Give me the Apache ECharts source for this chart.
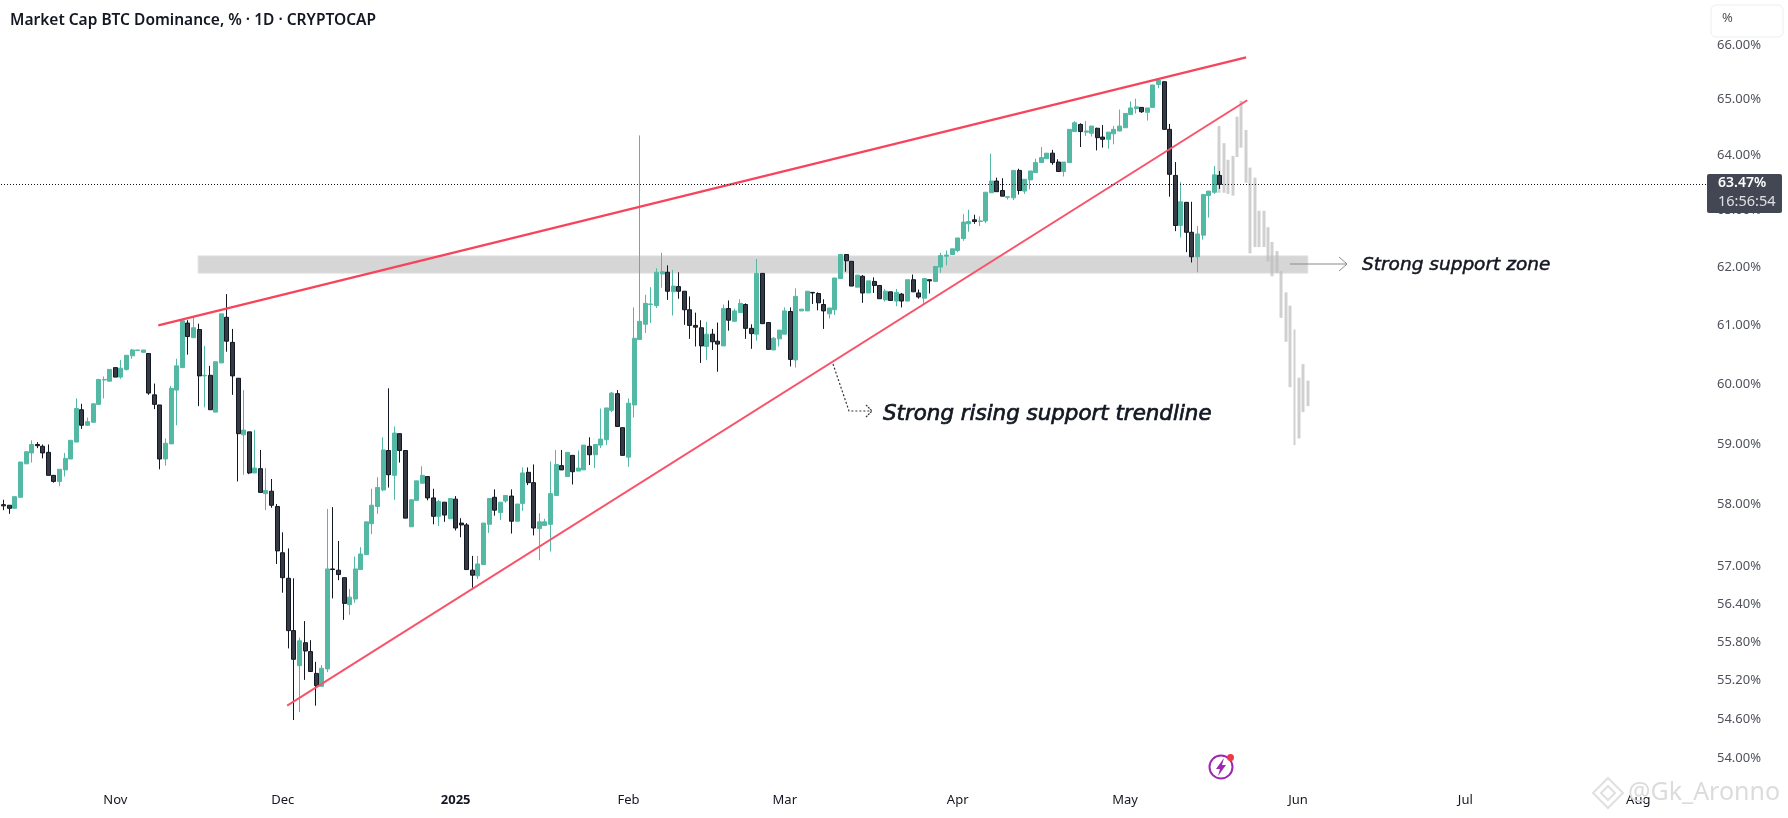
<!DOCTYPE html>
<html>
<head>
<meta charset="utf-8">
<title>Market Cap BTC Dominance</title>
<script src="https://cdn.jsdelivr.net/npm/echarts@6/dist/echarts.min.js"></script>
<style>
    html, body { margin: 0; padding: 0; background: #fff; }
    #chart { width: 1788px; height: 818px; }
</style>
</head>
<body>
<div id="chart"></div>
<script>
// open, close, low, high
var candleData = [
    [58.00,57.98,57.91,58.08],[57.99,57.94,57.85,57.99],[57.94,58.13,57.94,58.13],[58.12,58.70,58.12,58.70],
    [58.67,58.87,58.67,58.87],[58.85,58.99,58.69,59.06],[58.99,58.97,58.93,59.03],[58.96,58.85,58.76,58.99],
    [58.86,58.48,58.48,58.99],[58.48,58.38,58.36,58.48],[58.38,58.58,58.30,58.58],[58.57,58.76,58.46,58.85],
    [58.75,59.06,58.75,59.06],[59.03,59.59,59.03,59.76],[59.57,59.31,59.25,59.67],[59.31,59.37,59.30,59.44],
    [59.36,59.67,59.36,59.67],[59.66,60.08,59.66,60.08],[60.07,60.08,59.76,60.13],[60.05,60.25,60.05,60.25],
    [60.28,60.12,60.12,60.28],[60.12,60.27,60.09,60.41],[60.25,60.49,60.23,60.49],[60.48,60.58,60.43,60.60],
    [60.57,60.58,60.57,60.58],[60.54,60.58,60.54,60.58],[60.52,59.85,59.82,60.52],[59.82,59.66,59.58,60.01],
    [59.65,58.75,58.58,59.65],[58.75,59.01,58.64,59.09],[59.00,59.93,59.00,59.97],[59.90,60.31,59.31,60.43],
    [60.28,61.08,60.28,61.08],[61.04,60.81,60.50,61.09],[60.79,60.96,60.79,61.15],[60.93,60.14,59.63,61.03],
    [60.14,60.15,59.61,60.65],[60.15,59.57,59.57,60.31],[59.53,60.38,59.53,60.38],[60.36,61.20,60.36,61.20],
    [61.14,60.73,60.55,61.54],[60.71,60.14,59.82,60.94],[60.10,59.17,58.38,60.10],[59.15,59.23,58.49,59.90],
    [59.20,58.52,58.50,59.20],[58.52,58.60,58.52,59.23],[58.59,58.20,58.20,58.90],[58.18,58.23,57.91,58.60],
    [58.22,57.99,57.95,58.42],[57.97,57.25,57.04,58.01],[57.22,56.82,56.58,57.55],[56.81,55.98,55.70,57.29],
    [55.98,55.53,54.59,56.81],[55.43,55.82,54.71,55.87],[55.79,55.66,55.21,56.13],[55.65,55.34,55.34,55.83],
    [55.31,55.12,54.81,55.49],[55.11,55.39,55.11,55.44],[55.38,56.96,55.33,57.93],[56.96,56.95,56.49,57.96],
    [56.94,56.87,56.78,57.41],[56.82,56.41,56.15,56.82],[56.39,56.51,56.23,56.64],[56.48,56.96,56.42,57.16],
    [56.95,57.20,56.95,57.31],[57.19,57.72,57.19,57.72],[57.69,57.99,57.52,58.26],[57.97,58.28,57.85,58.45],
    [58.24,58.90,58.22,59.11],[58.89,58.49,58.28,59.93],[58.48,59.18,58.08,59.29],[59.17,58.89,58.69,59.17],
    [58.89,57.78,57.78,58.89],[57.64,58.08,57.64,58.08],[58.07,58.39,58.07,58.39],[58.35,58.48,58.35,58.63],
    [58.46,58.11,58.07,58.46],[58.11,57.81,57.68,58.26],[57.81,58.05,57.65,58.08],[58.04,57.83,57.72,58.04],
    [57.77,58.10,57.77,58.10],[58.09,57.62,57.58,58.14],[57.70,57.67,57.47,57.78],[57.67,56.95,56.95,57.70],
    [56.94,56.86,56.66,57.17],[56.85,57.04,56.80,57.17],[57.03,57.70,57.03,57.70],[57.68,58.10,57.54,58.10],
    [58.12,57.91,57.82,58.25],[57.87,58.04,57.75,58.04],[58.06,58.15,58.03,58.15],[58.14,57.73,57.53,58.25],
    [57.73,58.01,57.73,58.01],[58.02,58.52,57.90,58.61],[58.53,58.36,58.32,58.61],[58.36,57.62,57.50,58.66],
    [57.61,57.72,57.10,57.86],[57.66,57.72,57.66,57.77],[57.68,58.18,57.24,58.71],[58.15,58.66,58.15,58.90],
    [58.64,58.57,58.57,58.90],[58.46,58.86,58.46,58.86],[58.81,58.54,58.33,58.81],[58.55,58.60,58.55,58.89],
    [58.57,58.98,58.57,58.98],[58.96,58.82,58.65,59.11],[58.82,58.99,58.60,58.99],[58.98,59.08,58.93,59.59],
    [59.07,59.60,58.98,59.60],[59.56,59.85,59.53,59.87],[59.84,59.29,59.29,59.90],[59.27,58.81,58.81,59.27],
    [58.78,59.68,58.62,59.76],[59.65,60.78,59.44,61.31],[60.76,61.07,60.76,64.35],[61.02,61.38,60.87,61.53],
    [61.36,61.37,61.04,61.66],[61.34,61.92,61.30,61.99],[61.89,61.93,61.65,62.26],[61.92,61.59,61.44,62.04],
    [61.58,61.68,61.17,61.96],[61.67,61.59,61.46,61.92],[61.59,61.27,61.01,61.59],[61.27,61.00,60.77,61.50],
    [61.00,60.97,60.64,61.22],[60.96,60.65,60.36,61.09],[60.64,60.85,60.41,61.06],[60.85,60.72,60.58,60.94],
    [60.73,60.68,60.21,61.05],[60.65,61.29,60.65,61.36],[61.29,61.09,60.91,61.43],[61.07,61.25,61.07,61.29],
    [61.22,61.38,61.22,61.45],[61.36,60.95,60.77,61.38],[60.95,60.86,60.60,61.02],[60.85,61.90,60.74,62.15],
    [61.90,61.03,61.03,61.90],[61.05,60.59,60.59,61.05],[60.58,60.78,60.58,60.80],[60.77,60.92,60.64,60.92],
    [60.85,61.25,60.85,61.31],[61.24,60.42,60.30,61.31],[60.41,61.50,60.28,61.64],[61.25,61.28,61.25,61.28],
    [61.25,61.59,61.25,61.59],[61.57,61.56,61.37,61.57],[61.55,61.39,61.26,61.57],[61.36,61.25,60.94,61.45],
    [61.20,61.30,61.12,61.30],[61.27,61.82,61.18,61.82],[61.81,62.23,61.81,62.23],[62.23,62.12,61.93,62.23],
    [62.11,61.68,61.68,62.11],[61.66,61.87,61.66,61.87],[61.85,61.56,61.39,61.87],[61.56,61.77,61.56,61.77],
    [61.76,61.69,61.56,61.83],[61.69,61.46,61.46,61.69],[61.44,61.59,61.41,61.63],[61.58,61.43,61.43,61.58],
    [61.42,61.57,61.33,61.63],[61.54,61.42,61.31,61.56],[61.42,61.79,61.42,61.79],[61.79,61.58,61.58,61.88],
    [61.56,61.49,61.46,61.62],[61.47,61.81,61.36,61.81],[61.79,61.77,61.55,61.79],[61.76,62.02,61.76,62.02],
    [62.01,62.21,61.91,62.26],[62.20,62.22,62.04,62.30],[62.23,62.33,62.23,62.33],[62.30,62.52,62.27,62.52],
    [62.51,62.80,62.47,62.94],[62.77,62.81,62.63,63.02],[62.84,62.81,62.77,62.93],[62.81,62.82,62.73,62.90],
    [62.82,63.33,62.78,63.33],[63.32,63.53,63.32,64.02],[63.53,63.34,63.34,63.59],[63.36,63.26,63.26,63.58],
    [63.24,63.25,63.20,63.25],[63.23,63.72,63.19,63.72],[63.72,63.36,63.29,63.75],[63.35,63.56,63.30,63.56],
    [63.55,63.71,63.38,63.71],[63.68,63.86,63.68,63.93],[63.86,63.95,63.86,64.14],[63.93,64.03,63.93,64.03],
    [64.03,63.86,63.82,64.09],[63.87,63.70,63.70,63.92],[63.70,63.87,63.61,63.87],[63.86,64.46,63.86,64.46],
    [64.42,64.58,64.42,64.61],[64.55,64.42,64.14,64.57],[64.41,64.43,64.34,64.61],[64.39,64.52,64.33,64.52],
    [64.48,64.31,64.08,64.49],[64.32,64.28,64.13,64.54],[64.28,64.41,64.11,64.41],[64.38,64.46,64.19,64.52],
    [64.43,64.52,64.43,64.82],[64.49,64.75,64.49,64.75],[64.73,64.85,64.73,64.97],[64.84,64.87,64.75,65.02],
    [64.86,64.78,64.76,64.86],[64.77,64.85,64.62,64.85],[64.86,65.27,64.86,65.27],[65.28,65.36,65.21,65.39],
    [65.33,64.46,64.46,65.34],[64.46,63.65,63.25,64.56],[63.63,62.74,62.64,63.87],[62.74,63.16,62.53,63.51],
    [63.15,62.62,62.27,63.15],[62.62,62.19,62.09,63.16],[62.19,62.59,61.92,62.73],[62.57,63.29,62.49,63.29],
    [63.27,63.35,62.88,63.35],[63.33,63.64,63.30,63.80],[63.63,63.47,63.39,63.71]
];

// projected path, bottom and top of each grey bar
var ghostBars = [
    [63.32,64.52],[63.32,64.21],[63.30,63.91],[63.27,63.98],[63.96,64.69],[64.13,64.98],[63.50,64.45],
    [62.25,63.77],[62.36,63.59],[62.36,63.00],[62.36,63.00],[62.11,62.71],[61.85,62.45],[61.91,62.29],
    [61.13,61.94],[60.72,61.57],[59.95,61.34],[58.98,60.93],[59.09,60.11],[59.53,60.34],[59.63,60.06]
];
var ghostOffset = 275;
var ghostSlots = 386;

var firstDay = '2024-10-12';
var daySlots = 306;
var monthDates = ['2024-11-01','2024-12-01','2025-01-01','2025-02-01','2025-03-01','2025-04-01','2025-05-01','2025-06-01','2025-07-01','2025-08-01'];
var monthNames = ['Nov','Dec','2025','Feb','Mar','Apr','May','Jun','Jul','Aug'];
var priceTicks = [66,65,64,63,62,61,60,59,58,57,56.4,55.8,55.2,54.6,54];
var lastPrice = 63.47;

// [bar index, value]
var upperTrend = [[28.2,61.00],[223.2,65.78]];
var lowerTrend = [[51.3,54.81],[223.4,64.99]];
var supportZone = {from: 35.3, to: 234.3, low: 61.90, high: 62.21};

var days = [];
var d0 = new Date(firstDay + 'T00:00:00Z').getTime();
for (var i = 0; i < daySlots; i++) {
    days.push(new Date(d0 + i * 86400000).toISOString().slice(0, 10));
}
var ghostCats = [];
for (var j = 0; j < ghostSlots; j++) {
    ghostCats.push('g' + j);
}
var ghostSeries = [];
for (var k = 0; k < ghostOffset; k++) {
    ghostSeries.push('-');
}
ghostBars.forEach(function (b) {
    ghostSeries.push([b[0], b[1], b[0], b[1]]);
});

var fontName = '"Noto Sans", sans-serif';
var noteFamily = '"DejaVu Sans", sans-serif';

var chart = echarts.init(document.getElementById('chart'));
chart.setOption({
    animation: false,
    backgroundColor: '#ffffff',
    grid: {left: 1, top: 0, width: 1707, height: 785, containLabel: false},
    xAxis: [
        {
            type: 'category',
            data: days,
            boundaryGap: true,
            axisLine: {show: false},
            axisTick: {show: false},
            splitLine: {show: false},
            axisLabel: {
                margin: 9,
                hideOverlap: false,
                color: '#131722',
                fontFamily: fontName,
                fontSize: 13,
                interval: function (index, value) {
                    return monthDates.indexOf(value) >= 0;
                },
                formatter: function (value) {
                    var name = monthNames[monthDates.indexOf(value)];
                    return name === '2025' ? '{b|2025}' : name;
                },
                rich: {b: {fontWeight: 'bold', fontSize: 13, color: '#131722', fontFamily: fontName}}
            }
        },
        {type: 'category', data: ghostCats, show: false},
        {type: 'value', min: 0, max: daySlots, show: false}
    ],
    yAxis: {
        type: 'log',
        logBase: Math.E,
        min: 53.6,
        max: 66.85,
        position: 'right',
        axisLine: {show: false},
        axisTick: {show: false},
        splitLine: {show: false},
        axisLabel: {
            customValues: priceTicks,
            margin: 9,
            color: '#4f525c',
            fontFamily: fontName,
            fontSize: 13,
            formatter: function (v) {
                return Number(v).toFixed(2) + '%';
            }
        }
    },
    series: [
        {
            // support zone
            type: 'line',
            xAxisIndex: 2,
            z: 1,
            data: [],
            markArea: {
                silent: true,
                itemStyle: {color: '#d6d6d6', borderColor: '#ececec', borderWidth: 1},
                data: [[
                    {xAxis: supportZone.from, yAxis: supportZone.high},
                    {xAxis: supportZone.to, yAxis: supportZone.low}
                ]]
            }
        },
        {
            type: 'candlestick',
            xAxisIndex: 1,
            z: 2,
            barWidth: 3.4,
            data: ghostSeries,
            itemStyle: {
                color: 'rgba(188,188,188,0.7)',
                color0: 'rgba(188,188,188,0.7)',
                borderWidth: 0,
                borderColor: 'rgba(188,188,188,0)',
                borderColor0: 'rgba(188,188,188,0)'
            }
        },
        {
            type: 'candlestick',
            z: 3,
            barWidth: 4.5,
            data: candleData,
            itemStyle: {
                color: '#53b9a5',
                color0: '#363a45',
                borderColor: '#53b9a5',
                borderColor0: '#131722',
                borderColorDoji: '#131722',
                borderWidth: 1
            },
            markLine: {
                silent: true,
                symbol: 'none',
                label: {show: false},
                lineStyle: {color: '#131722', width: 1, type: [1, 2]},
                data: [{yAxis: lastPrice}]
            }
        },
        {
            type: 'line',
            xAxisIndex: 2,
            z: 4,
            symbol: 'none',
            silent: true,
            lineStyle: {color: '#f7445c', width: 2.2},
            data: upperTrend
        },
        {
            type: 'line',
            xAxisIndex: 2,
            z: 4,
            symbol: 'none',
            silent: true,
            lineStyle: {color: '#f9536a', width: 2},
            data: lowerTrend
        }
    ],
    graphic: [
        {type: 'text', z: 100, left: 10, top: 13, style: {text: 'Market Cap BTC Dominance, % · 1D · CRYPTOCAP', fill: '#131722', font: '600 15.5px ' + fontName}},
        // percent box, covers the top label like the original
        {type: 'rect', z: 100, shape: {x: 1711, y: 5, width: 72, height: 32, r: 5}, style: {fill: '#fff', stroke: '#eeeeee', lineWidth: 1}},
        {type: 'text', z: 101, x: 1722, y: 12, style: {text: '%', fill: '#4f525c', font: '13px ' + fontName}},
        // last price tag
        {type: 'rect', z: 100, shape: {x: 1707, y: 174, width: 75, height: 39, r: 2}, style: {fill: '#434753'}},
        {type: 'text', z: 101, x: 1718, y: 176, style: {text: '63.47%', fill: '#ffffff', font: '600 14px ' + fontName}},
        {type: 'text', z: 101, x: 1718, y: 194, style: {text: '16:56:54', fill: '#dfe0e3', font: '14.5px ' + fontName}},
        // rising support note
        {type: 'polyline', z: 50, shape: {points: [[833, 364], [849, 411], [871, 411]]}, style: {stroke: '#333', lineWidth: 1.2, lineDash: [2, 2], fill: null}},
        {type: 'polyline', z: 50, shape: {points: [[866, 405], [872, 411], [866, 417]]}, style: {stroke: '#333', lineWidth: 1.2, lineDash: [2, 1], fill: null}},
        {type: 'text', z: 50, x: 883, y: 414, style: {text: 'Strong rising support trendline', fill: '#131722', stroke: '#131722', lineWidth: 0.7, font: 'italic 21.4px ' + noteFamily, verticalAlign: 'middle'}},
        // support zone note
        {type: 'line', z: 50, shape: {x1: 1290, y1: 264, x2: 1347, y2: 264}, style: {stroke: '#8a8a8a', lineWidth: 1}},
        {type: 'polyline', z: 50, shape: {points: [[1339, 257], [1347, 264], [1339, 271]]}, style: {stroke: '#8a8a8a', lineWidth: 1, fill: null}},
        {type: 'text', z: 50, x: 1362, y: 265, style: {text: 'Strong support zone', fill: '#131722', stroke: '#131722', lineWidth: 0.5, font: 'italic 18.5px ' + noteFamily, verticalAlign: 'middle'}},
        // bolt icon
        {type: 'circle', z: 50, shape: {cx: 1221, cy: 767, r: 11.5}, style: {fill: '#fff', stroke: '#9c27b0', lineWidth: 2}},
        {type: 'polygon', z: 51, shape: {points: [[1224, 758], [1216, 769], [1220, 769], [1218, 776], [1226, 765], [1222, 765]]}, style: {fill: '#9c27b0'}},
        {type: 'circle', z: 52, shape: {cx: 1230.5, cy: 757.5, r: 3.5}, style: {fill: '#f23645'}},
        // watermark
        {type: 'polygon', z: 60, shape: {points: [[1608, 778], [1623, 793], [1608, 808], [1593, 793]]}, style: {fill: 'rgba(255,255,255,0)', stroke: '#e0e0e0', lineWidth: 2}},
        {type: 'polygon', z: 60, shape: {points: [[1608, 786], [1615, 793], [1608, 800], [1601, 793]]}, style: {fill: 'rgba(255,255,255,0)', stroke: '#e0e0e0', lineWidth: 2}},
        {type: 'text', z: 60, x: 1628, y: 793, style: {text: '@Gk_Aronno', fill: '#dcdcdc', font: '25px ' + fontName, verticalAlign: 'middle'}}
    ]
});
</script>
</body>
</html>
